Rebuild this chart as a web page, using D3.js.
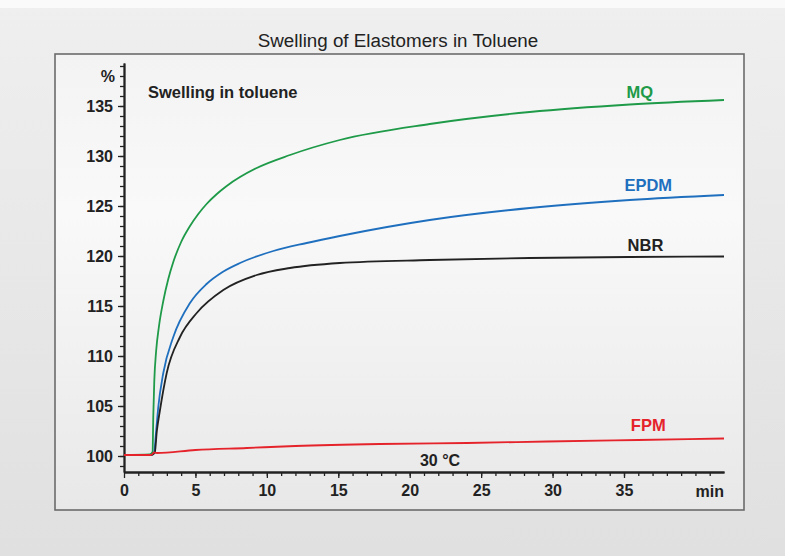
<!DOCTYPE html>
<html>
<head>
<meta charset="utf-8">
<script src="https://cdn.jsdelivr.net/npm/d3@7"></script>
<style>
  html, body { margin: 0; padding: 0; background: #e9e9e9; }
  svg { display: block; font-family: "Liberation Sans", Arial, sans-serif; }
</style>
</head>
<body>
<svg id="chart" width="785" height="556"></svg>
<script>
// swelling curves, [min, %]
var mqData = [[0,100.1],[1.8,100.15],[2.0,100.4],[2.05,104],[2.12,107.5],[2.25,110.5],[2.45,113.0],[2.75,115.5],[3.1,117.7],[3.45,119.4],[4.0,121.4],[4.62,123.0],[5.2,124.2],[5.78,125.2],[6.5,126.2],[7.19,127.0],[9.29,128.8],[11.62,130.1],[15.1,131.6],[21.4,133.2],[28.4,134.4],[35.4,135.15],[42,135.6]];
var epdmData = [[0,100.1],[1.9,100.1],[2.1,100.3],[2.25,102.5],[2.4,104.9],[2.75,108.3],[3.45,111.9],[4.62,115.3],[5.78,117.2],[6.9,118.4],[8.12,119.3],[10.45,120.5],[12.79,121.3],[15.1,122.0],[21.4,123.6],[28.4,124.8],[35.4,125.6],[42,126.1]];
var nbrData = [[0,100.1],[1.9,100.1],[2.15,100.3],[2.3,102.5],[2.52,104.6],[2.99,108.3],[3.92,111.9],[5.09,114.3],[6.95,116.6],[9.29,118.1],[11.62,118.8],[15.1,119.3],[21.4,119.6],[28.4,119.8],[35.4,119.9],[42,119.95]];
var fpmData = [[0,100.1],[1.9,100.1],[2.1,100.35],[2.3,100.3],[5,100.6],[8.6,100.8],[12,101.0],[17.9,101.2],[24,101.3],[29.6,101.45],[36,101.6],[42,101.75]];

var seriesNames = ["MQ", "EPDM", "NBR", "FPM"];
var seriesColors = ["#1e9a48", "#1f6fbf", "#222222", "#e5232b"];
var labelPos = [[36.1,135.8],[36.7,126.5],[36.5,120.5],[36.7,102.5]]; // label anchor (min, %)

var xTicks = [0, 5, 10, 15, 20, 25, 30, 35];
var yTicks = [100, 105, 110, 115, 120, 125, 130, 135];

var svg = d3.select("#chart");

var defs = svg.append("defs");
var bg = defs.append("linearGradient").attr("id","bg").attr("x1",0).attr("y1",0).attr("x2",0).attr("y2",1);
bg.append("stop").attr("offset","0%").attr("stop-color","#efefef");
bg.append("stop").attr("offset","100%").attr("stop-color","#e0e0e0");
var pg = defs.append("linearGradient").attr("id","pg").attr("x1",0).attr("y1",0).attr("x2",0).attr("y2",1);
pg.append("stop").attr("offset","0%").attr("stop-color","#f3f3f3");
pg.append("stop").attr("offset","35%").attr("stop-color","#f9f9f9");
pg.append("stop").attr("offset","100%").attr("stop-color","#e8e8e8");

svg.append("rect").attr("width",785).attr("height",556).attr("fill","url(#bg)");
svg.append("rect").attr("width",785).attr("height",8).attr("fill","#fafafa");

// frame
svg.append("rect")
	.attr("x",55).attr("y",54).attr("width",689).attr("height",456)
	.attr("fill","url(#pg)").attr("stroke","#6b6b6b").attr("stroke-width",1.6);

svg.append("text")
	.attr("x",398).attr("y",47).attr("text-anchor","middle")
	.style("font-size","18.8px").attr("fill","#222")
	.text("Swelling of Elastomers in Toluene");

var x = d3.scaleLinear().domain([0,42]).range([124,724]);
var y = d3.scaleLinear().domain([98.4,139.3]).range([472,63]);

// minor ticks
svg.append("g").attr("class","yminor").attr("transform","translate(124,0)")
	.call(d3.axisLeft(y).tickValues(d3.range(99,140)).tickSize(4).tickFormat("").tickSizeOuter(0));
svg.append("g").attr("class","xminor").attr("transform","translate(0,472)")
	.call(d3.axisBottom(x).tickValues(d3.range(1,42)).tickSize(4).tickFormat("").tickSizeOuter(0));

// major ticks
var yAxis = svg.append("g").attr("class","ymajor").attr("transform","translate(124,0)")
	.call(d3.axisLeft(y).tickValues(yTicks).tickSize(6).tickPadding(5).tickSizeOuter(0));
var xAxis = svg.append("g").attr("class","xmajor").attr("transform","translate(0,472)")
	.call(d3.axisBottom(x).tickValues(xTicks).tickSize(6).tickPadding(7).tickSizeOuter(0));

svg.selectAll(".yminor path, .xminor path").attr("stroke","none");
svg.selectAll(".domain").attr("stroke","#222").attr("stroke-width",1.8);
svg.selectAll(".tick line").attr("stroke","#222").attr("stroke-width",1.3);
svg.selectAll(".ymajor text, .xmajor text")
	.style("font-size","16px").style("font-weight","bold").attr("fill","#222")
	.style("font-family","'Liberation Sans', Arial, sans-serif");

svg.append("text").attr("x",115).attr("y",y(138)+6).attr("text-anchor","end")
	.style("font-size","16px").style("font-weight","bold").attr("fill","#222").text("%");
svg.append("text").attr("x",724).attr("y",497).attr("text-anchor","end")
	.style("font-size","16px").style("font-weight","bold").attr("fill","#222").text("min");

// curves
var line = d3.line()
	.x(function(d){ return x(d[0]); })
	.y(function(d){ return y(d[1]); })
	.curve(d3.curveMonotoneX);

[mqData, epdmData, nbrData, fpmData].forEach(function(s, i){
	svg.append("path").datum(s)
		.attr("d", line)
		.attr("fill","none")
		.attr("stroke", seriesColors[i])
		.attr("stroke-width",1.8);
});

seriesNames.forEach(function(n, i){
	svg.append("text")
		.attr("x", x(labelPos[i][0])).attr("y", y(labelPos[i][1]))
		.attr("text-anchor","middle")
		.style("font-size","16.5px").style("font-weight","bold")
		.attr("fill", seriesColors[i])
		.text(n);
});

svg.append("text").attr("x",148).attr("y",98)
	.style("font-size","16.5px").style("font-weight","bold").attr("fill","#222")
	.text("Swelling in toluene");
svg.append("text").attr("x",440).attr("y",466).attr("text-anchor","middle")
	.style("font-size","16px").style("font-weight","bold").attr("fill","#222")
	.text("30 °C");
</script>
</body>
</html>
